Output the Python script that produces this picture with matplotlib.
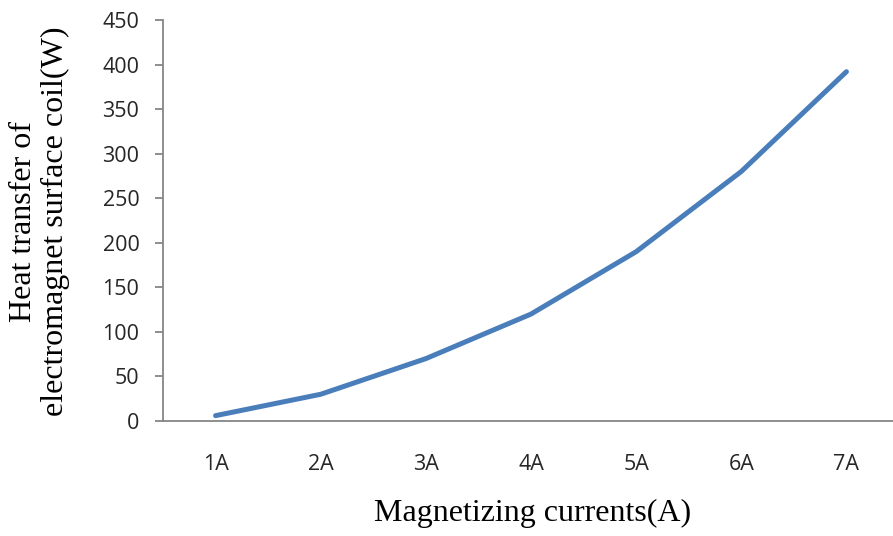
import matplotlib
matplotlib.use('Agg')
import matplotlib.pyplot as plt

# Heat transfer of the coil surface against magnetizing current
currents = ['1A', '2A', '3A', '4A', '5A', '6A', '7A']
heat_w = [6, 30, 70, 120, 190, 280, 392]
y_ticks = [0, 50, 100, 150, 200, 250, 300, 350, 400, 450]

AXIS_GREY = '#868686'
LINE_BLUE = '#4a7ebb'

fig = plt.figure(figsize=(8.93, 5.36), dpi=100)
ax = fig.add_axes([163 / 893, 1 - 421 / 536, 736 / 893, 401 / 536])

x = list(range(1, len(currents) + 1))
ax.plot(x, heat_w, color=LINE_BLUE, linewidth=3.6, solid_capstyle='round',
        solid_joinstyle='round')

ax.set_xlim(0.5, 7.5)
ax.set_ylim(0, 450)
ax.set_xticks(x)
ax.set_xticklabels(currents)
ax.set_yticks(y_ticks)

for side in ('top', 'right'):
    ax.spines[side].set_visible(False)
for side in ('left', 'bottom'):
    ax.spines[side].set_color(AXIS_GREY)
    ax.spines[side].set_linewidth(1.3)

ax.tick_params(axis='y', length=6, width=1.3, color=AXIS_GREY, pad=11,
               labelcolor='#262626')
ax.tick_params(axis='x', length=0, pad=24, labelcolor='#262626')
for lbl in ax.get_xticklabels() + ax.get_yticklabels():
    lbl.set_fontfamily(['Open Sans', 'DejaVu Sans'])
    lbl.set_fontsize(15.5)

label_font = dict(family='Liberation Serif', size=23, color='black')
fig.text(533 / 893, 1 - 513 / 536, 'Magnetizing currents(A)',
         ha='center', va='center', **label_font)
fig.text(24 / 893, 1 - 221 / 536, 'Heat transfer of',
         rotation=90, ha='center', va='center', **label_font)
fig.text(55 / 893, 1 - 221 / 536, 'electromagnet surface coil(W)',
         rotation=90, ha='center', va='center', **label_font)

fig.savefig('out.png', dpi=100)
